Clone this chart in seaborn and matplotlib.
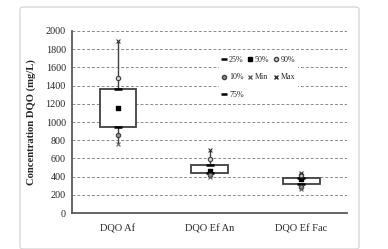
import matplotlib
matplotlib.use('Agg')
import matplotlib.pyplot as plt
from matplotlib.lines import Line2D
from matplotlib.patches import FancyBboxPatch
import numpy as np
import pandas as pd
import seaborn as sns

categories = ['DQO Af', 'DQO Ef An', 'DQO Ef Fac']
q25 = [948, 443, 315]
q75 = [1359, 527, 381]
p50 = [1157, 465, 370]
p90 = [1487, 590, 421]
p10 = [860, 418, 289]
v_min = [758, 392, 260]
v_max = [1893, 692, 443]

sns.set_style('white')
plt.rcParams['font.family'] = ['Liberation Serif', 'DejaVu Serif']

# box data: quartiles reproduced exactly by [q25, q25, q75, q75]
rows = []
for i, cat in enumerate(categories):
    for v in [q25[i], q25[i], q75[i], q75[i]]:
        rows.append({'cat': cat, 'val': v})
m_data = pd.DataFrame(rows)

fig = plt.figure(figsize=(3.88, 2.49), dpi=100)
frame = FancyBboxPatch((20 / 388, 0.0), 339 / 388, 1 - 7 / 249,
                       boxstyle='round,pad=0,rounding_size=0.01',
                       transform=fig.transFigure, facecolor='white',
                       edgecolor='#d9d9d9', linewidth=1.0, zorder=-1)
fig.patches.append(frame)
ax = fig.add_axes([72 / 388, 1 - 213 / 249, 275 / 388, 182 / 249])
ax.set_zorder(1)
ax.patch.set_alpha(0)

pos = np.arange(len(categories))
ax.vlines(pos, v_min, v_max, color='#404040', linewidth=1.0, zorder=1)

sns.boxplot(data=m_data, x='cat', y='val', order=categories, whis=0, showfliers=False,
            showcaps=False, width=0.4, color='white', linecolor='#404040', linewidth=1.3,
            medianprops={'linewidth': 0}, ax=ax)
for p in ax.patches:
    p.set_zorder(2)

ax.scatter(pos, q25, marker='_', s=30, color='black', linewidths=1.8, zorder=4)
ax.scatter(pos, q75, marker='_', s=30, color='black', linewidths=1.8, zorder=4)
ax.scatter(pos, p50, marker='s', s=9, color='black', zorder=4)
ax.scatter(pos, p90, marker='o', s=10, facecolor='#d0d0d0', edgecolor='#404040', linewidths=0.8, zorder=4)
ax.scatter(pos, p10, marker='o', s=10, facecolor='#909090', edgecolor='#404040', linewidths=0.8, zorder=4)
ax.scatter(pos, v_min, marker='x', s=8, color='#606060', linewidths=0.8, zorder=4)
ax.scatter(pos, v_max, marker='x', s=8, color='#303030', linewidths=0.8, zorder=4)

ax.set_xlim(-0.5, 2.5)
ax.set_ylim(0, 2000)
ax.set_yticks(range(0, 2001, 200))
ax.yaxis.grid(True, linestyle=(0, (3, 2)), color='#8c8c8c', linewidth=0.7)
ax.set_axisbelow(True)
for s in ['top', 'right']:
    ax.spines[s].set_visible(False)
for s in ['left', 'bottom']:
    ax.spines[s].set_color('#595959')
    ax.spines[s].set_linewidth(1.3)
ax.set_xticks(pos)
ax.set_xticks([-0.5, 0.5, 1.5, 2.5], minor=True)
ax.tick_params(axis='x', which='major', length=0, labelsize=7.5, pad=8)
ax.tick_params(axis='x', which='minor', length=3, direction='in', color='#595959', width=1.0)
ax.tick_params(axis='y', length=3, direction='out', color='#595959', width=1.0, labelsize=7.3, pad=1.5)
ax.set_xlabel('')
ax.set_ylabel('Concentration DQO (mg/L)', fontsize=7.7, fontweight='bold', labelpad=7)

handles = [
    Line2D([], [], marker='_', color='black', linestyle='none', markersize=5, markeredgewidth=1.8),
    Line2D([], [], marker='o', color='#909090', markeredgecolor='#404040', linestyle='none', markersize=3),
    Line2D([], [], marker='_', color='black', linestyle='none', markersize=5, markeredgewidth=1.8),
    Line2D([], [], marker='s', color='black', linestyle='none', markersize=2.8),
    Line2D([], [], marker='x', color='#606060', linestyle='none', markersize=3),
    Line2D([], [], marker='o', color='#d0d0d0', markeredgecolor='#404040', linestyle='none', markersize=3),
    Line2D([], [], marker='x', color='#303030', linestyle='none', markersize=3),
]
labels = ['25%', '10%', '75%', '50%', 'Min', '90%', 'Max']
leg = ax.legend(handles, labels, ncol=3, loc='upper left', bbox_to_anchor=(0.536, 0.875),
                fontsize=5.8, handlelength=0.6, handletextpad=0.3, columnspacing=0.5,
                labelspacing=1.15, frameon=True, framealpha=1, facecolor='white',
                edgecolor='none', borderpad=0.3, borderaxespad=0)

plt.savefig('out.png', dpi=100)
